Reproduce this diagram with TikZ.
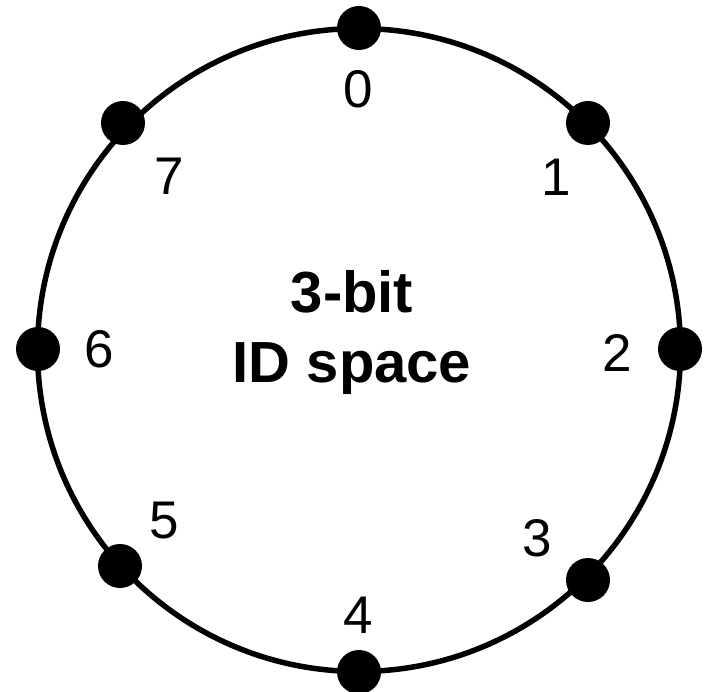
\documentclass[tikz,border=0pt]{standalone}
\usepackage{fontspec}
\setmainfont{Liberation Sans}
\begin{document}
\begin{tikzpicture}[x=1pt,y=-1pt,
  ring/.style={line width=5.5pt,draw=black},
  peer/.style={circle,fill=black,inner sep=0pt,minimum size=44pt},
  idlabel/.style={anchor=base,inner sep=0pt,font=\fontsize{53}{64}\selectfont},
  title/.style={inner sep=0pt,align=center,font=\fontsize{58}{70}\selectfont\bfseries}]
\useasboundingbox (0,0) rectangle (709,692);
\coordinate (c) at (359,350);
\draw[ring] (c) circle[radius=321.5pt];
\node[peer] (p0) at (359,28) {};
\node[peer] (p1) at (588,123) {};
\node[peer] (p2) at (680,349) {};
\node[peer] (p3) at (588,580) {};
\node[peer] (p4) at (359,672) {};
\node[peer] (p5) at (120,566) {};
\node[peer] (p6) at (38,349) {};
\node[peer] (p7) at (123,123) {};
\node[idlabel] (l0) at (358.5,108) {0};
\node[idlabel] (l1) at (556,196) {1};
\node[idlabel] (l2) at (617.5,371) {2};
\node[idlabel] (l3) at (537.5,556) {3};
\node[idlabel] (l4) at (358.5,633) {4};
\node[idlabel] (l5) at (164.5,538) {5};
\node[idlabel] (l6) at (99.5,367) {6};
\node[idlabel] (l7) at (169,195) {7};
\node[title] (t) at (352,333) {3-bit\\ID space};
\end{tikzpicture}
\end{document}
